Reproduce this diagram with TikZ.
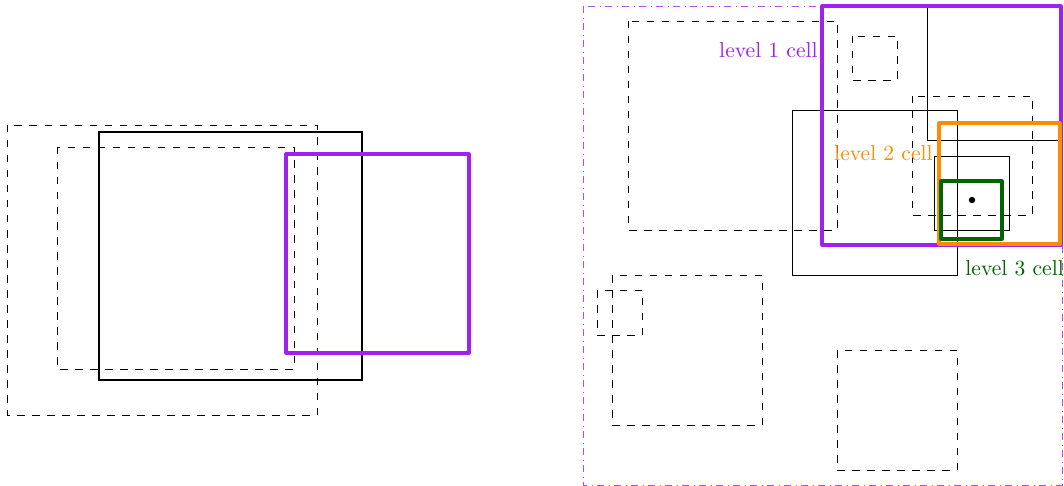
\documentclass[tikz,border=0pt]{standalone}
\usepackage{xcolor}
\definecolor{lvlone}{HTML}{A020F0}
\definecolor{lvltwo}{HTML}{FF8C00}
\definecolor{lvlthree}{HTML}{006400}
\tikzset{
  cand/.style={draw=black, dash pattern=on 3.75pt off 3.75pt, line width=0.4pt},
  solidbox/.style={draw=black, line width=0.4pt},
  qbox/.style={draw=black, line width=0.8pt},
  lonebox/.style={draw=lvlone, line width=1.6pt, line join=round},
  ltwobox/.style={draw=lvltwo, line width=1.6pt, line join=round},
  lthreebox/.style={draw=lvlthree, line width=1.6pt, line join=round},
  frame/.style={draw=lvlone!80, dash pattern=on 3.5pt off 2.3pt on 0.4pt off 2.3pt, line width=0.4pt},
  lbl/.style={inner sep=0pt, font=\fontsize{10.8pt}{13pt}\selectfont},
}
\begin{document}
\begin{tikzpicture}[x=0.5pt, y=-0.5pt]
\useasboundingbox (0,0) rectangle (1064,486);
% ---- left part ----
\draw[cand] (7,125) rectangle (317,415);
\draw[cand] (57,147) rectangle (294,369);
\draw[qbox] (99,132) rectangle (362,380);
\draw[lonebox] (286,154) rectangle (469,353);
% ---- right part ----
\draw[frame] (583,6) rectangle (1062,485);
\draw[cand] (628,21) rectangle (837,230);
\draw[cand] (852,36) rectangle (897,80);
\draw[cand] (912,96) rectangle (1032,215);
\draw[cand] (612,275) rectangle (762,425);
\draw[cand] (597,290) rectangle (642,335);
\draw[cand] (837,350) rectangle (957,470);
\draw[solidbox] (792,110) rectangle (957,275);
\draw[solidbox] (927,6) rectangle (1062,140);
\draw[solidbox] (934,156) rectangle (1009,230);
\draw[lonebox] (822,6) rectangle (1061,245);
\draw[ltwobox] (939,123) rectangle (1060,244);
\draw[lthreebox] (941,181) rectangle (1002,239);
\fill[black] (972,200) circle (1.6pt);
\node[lbl, text=lvlone, anchor=east] (l1) at (818,50) {level 1 cell};
\node[lbl, text=lvltwo, anchor=east] (l2) at (933,153) {level 2 cell};
\node[lbl, text=lvlthree, anchor=west] (l3) at (965,268) {level 3 cell};
\end{tikzpicture}
\end{document}
